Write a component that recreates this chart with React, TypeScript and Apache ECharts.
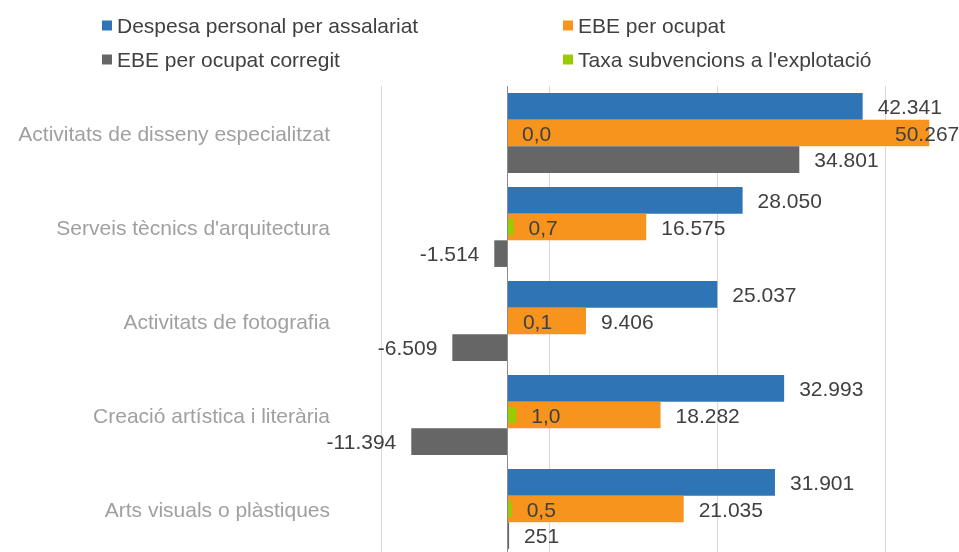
import React, { useEffect, useRef } from "react";
import * as echarts from "echarts";

const categories = [
  "Activitats de disseny especialitzat",
  "Serveis tècnics d'arquitectura",
  "Activitats de fotografia",
  "Creació artística i literària",
  "Arts visuals o plàstiques",
];
const seriesNames = [
  "Despesa personal per assalariat",
  "EBE per ocupat",
  "EBE per ocupat corregit",
  "Taxa subvencions a l'explotació",
];
const despesaPersonal = [42341, 28050, 25037, 32993, 31901];
const ebePerOcupat = [50267, 16575, 9406, 18282, 21035];
const ebeCorregit = [34801, -1514, -6509, -11394, 251];
const taxaSubvencions = [0.0, 0.7, 0.1, 1.0, 0.5];

const PRIMARY_MIN = -15000;
const PRIMARY_MAX = 65000;
const GRID_STEP = 20000;
const SECONDARY_MIN = -13.5;
const SECONDARY_MAX = 58.5;

const FONT = "'Liberation Sans', Arial, sans-serif";
const LABEL_COLOR = "#404040";
const COLORS = ["#2E75B6", "#F7941E", "#666666", "#99CC00"];

const fmtThousands = (v: number) => {
  const s = Math.abs(Math.round(v))
    .toString()
    .replace(/\B(?=(\d{3})+(?!\d))/g, ".");
  return (v < 0 ? "-" : "") + s;
};
const fmtDecimal = (v: number) => v.toFixed(1).replace(".", ",");

const labelBase = {
  show: true,
  fontFamily: FONT,
  fontSize: 21,
  color: LABEL_COLOR,
  distance: 15,
};

function barData(values: number[], overflowLimit?: number) {
  return values.map((v) => {
    if (overflowLimit !== undefined && v > overflowLimit) {
      return { value: v, label: { position: "insideRight", offset: [45, 0] } };
    }
    return { value: v, label: { position: v < 0 ? "left" : "right" } };
  });
}

export default function App() {
  const ref = useRef<HTMLDivElement>(null);
  useEffect(() => {
    if (!ref.current) return;
    const chart = echarts.init(ref.current, null, { renderer: "svg" });
    const textStyle = { fontFamily: FONT, fontSize: 21, color: LABEL_COLOR };
    chart.setOption({
      animation: false,
      textStyle: { fontFamily: FONT },
      legend: [
        {
          orient: "vertical",
          left: 97,
          top: 10,
          itemGap: 13,
          itemWidth: 10,
          itemHeight: 10,
          icon: "rect",
          selectedMode: false,
          data: [seriesNames[0], seriesNames[2]],
          textStyle,
        },
        {
          orient: "vertical",
          left: 558,
          top: 10,
          itemGap: 13,
          itemWidth: 10,
          itemHeight: 10,
          icon: "rect",
          selectedMode: false,
          data: [seriesNames[1], seriesNames[3]],
          textStyle,
        },
      ],
      grid: {
        left: 381,
        top: 86,
        width: 672,
        height: 470,
        containLabel: false,
        outerBoundsMode: "none",
      },
      xAxis: [
        { type: "value", min: PRIMARY_MIN, max: PRIMARY_MAX, show: false },
        { type: "value", min: SECONDARY_MIN, max: SECONDARY_MAX, show: false },
        {
          type: "value",
          min: 0,
          max: PRIMARY_MAX - PRIMARY_MIN,
          interval: GRID_STEP,
          axisLine: { show: false },
          axisTick: { show: false },
          axisLabel: { show: false },
          splitLine: { show: true, lineStyle: { color: "#D9D9D9", width: 1 } },
        },
      ],
      yAxis: [
        {
          type: "category",
          data: categories,
          inverse: true,
          axisLine: { show: false },
          axisTick: { show: false },
          splitLine: { show: false },
          axisLabel: {
            margin: 51,
            fontFamily: FONT,
            fontSize: 21,
            color: "#A0A0A0",
          },
        },
        {
          type: "category",
          data: categories,
          inverse: true,
          show: false,
        },
      ],
      series: [
        {
          name: seriesNames[0],
          type: "bar",
          xAxisIndex: 0,
          yAxisIndex: 0,
          barGap: "0%",
          barCategoryGap: "15%",
          itemStyle: { color: COLORS[0] },
          label: { ...labelBase, formatter: (p: any) => fmtThousands(p.value) },
          data: barData(despesaPersonal),
          markLine: {
            silent: true,
            symbol: ["none", "none"],
            label: { show: false },
            lineStyle: { color: "#8C8C8C", type: "solid", width: 1 },
            data: [{ xAxis: 0 }],
          },
        },
        {
          name: seriesNames[1],
          type: "bar",
          xAxisIndex: 0,
          yAxisIndex: 0,
          barGap: "0%",
          barCategoryGap: "15%",
          itemStyle: { color: COLORS[1] },
          label: { ...labelBase, formatter: (p: any) => fmtThousands(p.value) },
          data: barData(ebePerOcupat, 45000),
        },
        {
          name: seriesNames[2],
          type: "bar",
          xAxisIndex: 0,
          yAxisIndex: 0,
          barGap: "0%",
          barCategoryGap: "15%",
          itemStyle: { color: COLORS[2] },
          label: { ...labelBase, formatter: (p: any) => fmtThousands(p.value) },
          data: barData(ebeCorregit),
        },
        {
          name: seriesNames[3],
          type: "bar",
          xAxisIndex: 1,
          yAxisIndex: 1,
          barWidth: 16,
          itemStyle: { color: COLORS[3] },
          label: { ...labelBase, formatter: (p: any) => fmtDecimal(p.value) },
          data: barData(taxaSubvencions),
          z: 3,
        },
      ],
    });
    return () => chart.dispose();
  }, []);
  return (
    <div
      style={{
        position: "fixed",
        left: 0,
        top: 0,
        width: 959,
        height: 552,
        overflow: "hidden",
      }}
    >
      <div ref={ref} style={{ width: 1070, height: 560 }} />
    </div>
  );
}
